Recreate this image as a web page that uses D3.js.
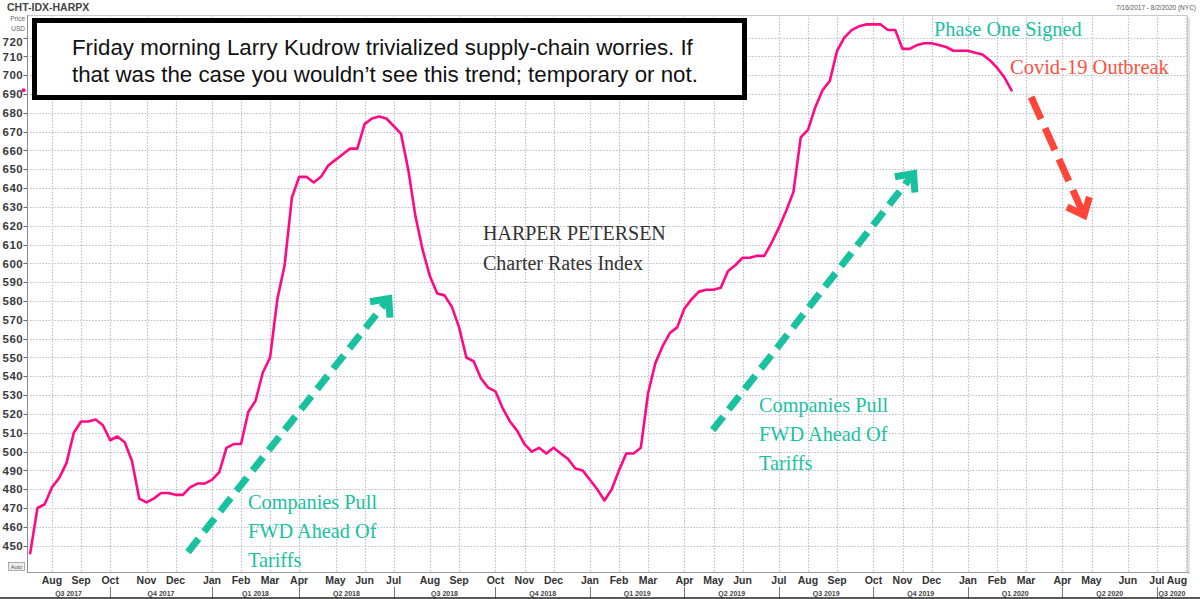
<!DOCTYPE html>
<html><head><meta charset="utf-8">
<script src="https://cdn.jsdelivr.net/npm/d3@7"></script>
<style>html,body{margin:0;padding:0;background:#fff;overflow:hidden}svg{display:block}</style>
</head><body>
<svg id="c" width="1200" height="599"></svg>
<script>
// ---------- data ----------
const startDate = "2017-07-16";           // first weekly observation (Sunday)
const lastAxisDate = "2020-08-02";        // end of displayed range
const harpexValues = [
  446,470,472,481,486,494,510,516,516,517,
  514,506,508,505,495,475,473,475,478,478,
  477,477,481,483,483,485,489,502,504,504,
  521,527,542,550,581,599,635,646,646,643,
  646,652,655,658,661,661,674,677,678,677,
  673,669,650,625,607,593,584,583,577,566,
  550,548,539,534,532,523,516,511,504,500,
  502,499,502,499,496,491,490,485,480,474,
  480,490,499,499,502,531,547,556,563,566,
  576,581,585,586,586,587,596,599,603,603,
  604,604,611,619,628,638,667,671,683,692,
  697,713,720,724,726,727,727,727,724,724,
  714,714,716,717,717,716,715,713,713,713,
  712,711,708,704,699,692
];
const yTickValues = [450,460,470,480,490,500,510,520,530,540,550,560,570,580,590,600,610,620,630,640,650,660,670,680,690,700,710,720];
const monthLabels = ["Aug","Sep","Oct","Nov","Dec",
  "Jan","Feb","Mar","Apr","May","Jun","Jul","Aug","Sep","Oct","Nov","Dec",
  "Jan","Feb","Mar","Apr","May","Jun","Jul","Aug","Sep","Oct","Nov","Dec",
  "Jan","Feb","Mar","Apr","May","Jun","Jul","Aug"];
const quarterLabels = ["Q3 2017","Q4 2017","Q1 2018","Q2 2018","Q3 2018","Q4 2018",
  "Q1 2019","Q2 2019","Q3 2019","Q4 2019","Q1 2020","Q2 2020","Q3 2020"];
const boxLines = ["Friday morning Larry Kudrow trivialized supply-chain worries. If",
  "that was the case you wouldn\u2019t see this trend; temporary or not."];
const titleLines = ["HARPER PETERSEN","Charter Rates Index"];
const pullLines = ["Companies Pull","FWD Ahead Of","Tariffs"];
// arrows in data units: [weekIndex, value]
const tealArrows = [ [[21.7,446.6],[49.5,582.1]], [[93.9,511.5],[121.7,648.6]] ];
const redArrow = [[137.7,688.4],[145.1,624.6]];

// ---------- layout ----------
const W = 1200, H = 599;
const L = 27, R = 1187, T = 15, B = 572;
const svg = d3.select("#c");
const parse = d3.timeParse("%Y-%m-%d");
const d0 = parse(startDate), dEnd = parse(lastAxisDate);
const nWeeks = Math.round((dEnd - d0) / (7*864e5));
const x = d3.scaleLinear().domain([0, nWeeks]).range([30.2, 1186]);
const y = d3.scaleLinear().domain([436, 732]).range([B, T]);
const sans = "'Liberation Sans', Arial, sans-serif";
const serif = "'Liberation Serif', 'Times New Roman', serif";

svg.append("rect").attr("width",W).attr("height",H).attr("fill","#fff");

// month ticks (first weekly point of each month)
const monthTicks = [];
for (let i = 1; i <= nWeeks; i++) {
  const dt = d3.timeDay.offset(d0, 7*i);
  if (dt.getDate() <= 7) monthTicks.push({i, m: dt.getMonth()});
}
monthTicks.forEach((t,k) => t.label = monthLabels[k]);

// grid
const grid = svg.append("g").attr("stroke","#bcbccb").attr("stroke-width",1.2).attr("stroke-dasharray","1.5,1.6");
grid.selectAll("line.h").data(yTickValues).join("line")
  .attr("x1",L).attr("x2",R).attr("y1",d=>Math.round(y(d))+0.5).attr("y2",d=>Math.round(y(d))+0.5);
grid.selectAll("line.v").data(monthTicks).join("line")
  .attr("y1",T).attr("y2",B).attr("x1",d=>Math.round(x(d.i))+0.5).attr("x2",d=>Math.round(x(d.i))+0.5);

// frame
svg.append("path").attr("d",`M${L},${T+0.5}H${R+0.5}V${B+0.5}`).attr("fill","none").attr("stroke","#c8c8d0");
svg.append("line").attr("x1",R+2).attr("x2",R+2).attr("y1",T+2).attr("y2",B+2).attr("stroke","#e4e4e8").attr("stroke-width",2);
svg.append("line").attr("x1",L).attr("x2",R+2).attr("y1",B+0.5).attr("y2",B+0.5).attr("stroke","#9a9aa0");
svg.append("line").attr("x1",L+0.5).attr("x2",L+0.5).attr("y1",T).attr("y2",B).attr("stroke","#8a8a90");

// y axis labels
const ya = svg.append("g");
ya.selectAll("text").data(yTickValues).join("text")
  .attr("x",23).attr("y",d=>Math.max(y(d),41.5)).attr("dy","0.36em")
  .attr("text-anchor","end").attr("font-family",sans).attr("font-size",11.5).attr("font-weight","bold")
  .attr("fill","#3a3a3a").attr("letter-spacing","0.4").text(d=>d);
ya.selectAll("line").data(yTickValues).join("line")
  .attr("x1",23.5).attr("x2",27).attr("y1",d=>Math.round(y(d))+0.5).attr("y2",d=>Math.round(y(d))+0.5)
  .attr("stroke","#666");
svg.append("text").attr("x",25).attr("y",21).attr("text-anchor","end").attr("font-family",sans)
  .attr("font-size",6.5).attr("fill","#666").text("Price");
svg.append("text").attr("x",25).attr("y",31).attr("text-anchor","end").attr("font-family",sans)
  .attr("font-size",6.5).attr("fill","#666").text("USD");
svg.append("circle").attr("cx",23.5).attr("cy",y(harpexValues[harpexValues.length-1])).attr("r",2).attr("fill","#ff0a84");
svg.append("rect").attr("x",8.5).attr("y",562.5).attr("width",16).attr("height",8).attr("fill","#eee").attr("stroke","#999").attr("stroke-width",0.8);
svg.append("text").attr("x",16.5).attr("y",569).attr("text-anchor","middle").attr("font-family",sans).attr("font-size",5.5).attr("fill","#555").text("Auto");

// header
svg.append("text").attr("x",7).attr("y",10.5).attr("font-family",sans).attr("font-size",10.5).attr("font-weight","bold")
  .attr("fill","#444").text("CHT-IDX-HARPX");
svg.append("text").attr("x",1196).attr("y",10).attr("text-anchor","end").attr("font-family",sans).attr("font-size",6.5)
  .attr("fill","#555").text(d3.timeFormat("%-m/%-d/%Y")(d0) + " - " + d3.timeFormat("%-m/%-d/%Y")(dEnd) + " (NYC)");

// x axis labels
const xa = svg.append("g").attr("font-family",sans).attr("fill","#333");
xa.selectAll("text.m").data(monthTicks).join("text")
  .attr("x",d=>Math.min(x(d.i), R-10)).attr("y",584).attr("text-anchor","middle")
  .attr("font-size",10.5).attr("font-weight","bold").text(d=>d.label);
const qSeps = monthTicks.filter(d=>d.m % 3 === 0).map(d=>x(d.i));
xa.selectAll("line.q").data(qSeps).join("line")
  .attr("x1",d=>Math.round(d)+0.5).attr("x2",d=>Math.round(d)+0.5).attr("y1",587).attr("y2",598)
  .attr("stroke","#777");
const edges = [L, ...qSeps, R];
xa.selectAll("text.q").data(quarterLabels).join("text")
  .attr("x",(d,k)=>(edges[k]+edges[k+1])/2).attr("y",595.5).attr("text-anchor","middle")
  .attr("font-size",7).attr("font-weight","bold").attr("fill","#444").text(d=>d);
svg.append("line").attr("x1",0).attr("x2",W).attr("y1",598).attr("y2",598).attr("stroke","#222").attr("stroke-width",1.6);

// series line
svg.append("path").datum(harpexValues)
  .attr("d", d3.line().x((d,i)=>x(i)).y(d=>y(d)))
  .attr("fill","none").attr("stroke","#ff0a84").attr("stroke-width",2.6)
  .attr("stroke-linejoin","round").attr("stroke-linecap","round");

// arrows
function arrow(a, color, sw, dash, arm, angDeg) {
  const x0=x(a[0][0]), y0=y(a[0][1]), x1=x(a[1][0]), y1=y(a[1][1]);
  const dx=x1-x0, dy=y1-y0, len=Math.hypot(dx,dy), ux=dx/len, uy=dy/len;
  svg.append("line").attr("x1",x0).attr("y1",y0).attr("x2",x1-ux*6).attr("y2",y1-uy*6)
    .attr("stroke",color).attr("stroke-width",sw).attr("stroke-dasharray",dash);
  const a2=angDeg*Math.PI/180, bx=-ux, by=-uy, c=Math.cos(a2), s=Math.sin(a2);
  const tx=x1-ux*2, ty=y1-uy*2;
  const p1=[tx+arm*(bx*c-by*s), ty+arm*(bx*s+by*c)];
  const p2=[tx+arm*(bx*c+by*s), ty+arm*(-bx*s+by*c)];
  svg.append("path").attr("d",`M${p1}L${tx},${ty}L${p2}`).attr("fill","none")
    .attr("stroke",color).attr("stroke-width",sw).attr("stroke-linejoin","miter").attr("stroke-miterlimit",6);
}
tealArrows.forEach(a=>arrow(a,"#18c29f",7,"17,9",19,42));
arrow(redArrow,"#ff4438",7,"24,10",19,40);

// annotation box
svg.append("rect").attr("x",34.5).attr("y",20.5).attr("width",710).attr("height",77)
  .attr("fill","#fff").attr("stroke","#000").attr("stroke-width",5);
svg.append("g").selectAll("text").data(boxLines).join("text")
  .attr("x",72).attr("y",(d,k)=>55+k*27).attr("font-family",sans).attr("font-size",22.3)
  .attr("fill","#111").text(d=>d);

// titles
svg.append("g").selectAll("text").data(titleLines).join("text")
  .attr("x",483).attr("y",(d,k)=>240+k*30).attr("font-family",serif).attr("font-size",20)
  .attr("fill","#333").text(d=>d);

// teal notes
[[248,509],[759,412]].forEach(p=>{
  svg.append("g").selectAll("text").data(pullLines).join("text")
    .attr("x",p[0]).attr("y",(d,k)=>p[1]+k*29).attr("font-family",serif).attr("font-size",20.3)
    .attr("fill","#18c29f").text(d=>d);
});
svg.append("text").attr("x",934).attr("y",36).attr("font-family",serif).attr("font-size",20.3)
  .attr("fill","#18c29f").text("Phase One Signed");
svg.append("text").attr("x",1010).attr("y",74).attr("font-family",serif).attr("font-size",20.5)
  .attr("fill","#ff5040").text("Covid-19 Outbreak");
</script>
</body></html>
